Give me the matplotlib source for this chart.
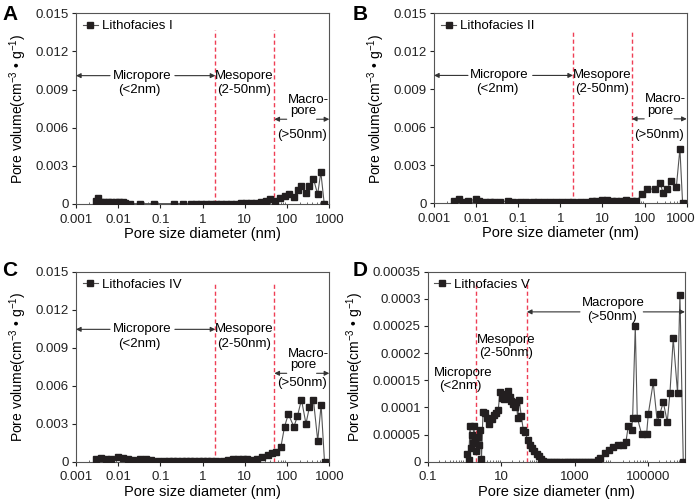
import numpy as np
import matplotlib
matplotlib.use('Agg')
import matplotlib.pyplot as plt
import matplotlib.transforms as mtransforms
from matplotlib.ticker import FixedLocator, FixedFormatter, LogLocator, NullFormatter

plt.rcParams['font.family'] = ['Liberation Sans', 'DejaVu Sans']
plt.rcParams['mathtext.fontset'] = 'custom'
plt.rcParams['mathtext.rm'] = 'Liberation Sans'

# ---- data ----
a_x = [0.003, 0.0033, 0.0039, 0.0047, 0.0056, 0.0067, 0.0089, 0.0106, 0.0127, 0.0147,
       0.019, 0.032, 0.072, 0.21, 0.35, 0.53, 0.69, 0.91, 1.2, 1.6,
       2.1, 2.7, 3.6, 4.7, 6.2, 8.1, 10.7, 14, 18.3, 24,
       31.7, 39.7, 53, 69, 87, 113, 148, 178, 214, 280,
       338, 420, 530, 630, 760]
a_y = [0.00026, 0.0005, 0.00018, 0.00013, 0.00013, 0.00013, 0.00016, 0.00018, 0.00016, 0.0001,
       0.00003, 0.00003, 0.00003, 0.00003, 0.00003, 0.00003, 0.00003, 0.00003, 0.00003, 0.00003,
       0.00003, 0.00003, 0.00003, 0.00003, 0.00003, 0.00005, 0.00005, 0.00008, 0.0001, 0.00013,
       0.00024, 0.00037, 0.00026, 0.0005, 0.00063, 0.00076, 0.00052, 0.0011, 0.0014, 0.00084,
       0.0014, 0.002, 0.00076, 0.0025, 0]

b_x = [0.003, 0.004, 0.0048, 0.0063, 0.01, 0.012, 0.016, 0.021, 0.027, 0.036,
       0.057, 0.075, 0.11, 0.155, 0.22, 0.3, 0.42, 0.58, 0.8, 1.1,
       1.5, 2.0, 2.9, 4.1, 5.5, 7.2, 9.5, 12.5, 16.4, 21.5,
       28, 37, 49, 64, 85, 112, 176, 234, 276, 333,
       435, 568, 690, 800]
b_y = [0.00018, 0.00034, 0.00013, 0.00016, 0.00034, 0.00016, 0.00013, 0.00013, 0.00013, 0.00013,
       0.00018, 0.00008, 0.00008, 0.00008, 0.00008, 0.00008, 0.00008, 0.00008, 0.00008, 0.00008,
       0.00008, 0.00008, 0.0001, 0.00013, 0.00018, 0.00021, 0.00024, 0.00026, 0.00018, 0.00018,
       0.00021, 0.00024, 0.00021, 0.00016, 0.00071, 0.00113, 0.00113, 0.0016, 0.0008, 0.0011,
       0.0018, 0.0013, 0.0043, 0]

c_x = [0.003, 0.0039, 0.0051, 0.0067, 0.0097, 0.0127, 0.0167, 0.022, 0.032, 0.045,
       0.06, 0.086, 0.123, 0.16, 0.2, 0.25, 0.32, 0.4, 0.5, 0.63,
       0.8, 1.0, 1.3, 1.6, 2.06, 2.98, 3.9, 5.1, 6.7, 8.8,
       11.5, 15, 19.9, 26, 34.5, 44, 55, 71.5, 87, 107,
       145, 176, 219, 280, 338, 420, 532, 640, 770]
c_y = [0.00018, 0.0003, 0.00018, 0.00018, 0.0004, 0.00026, 0.00018, 0.00013, 0.00018, 0.00018,
       0.00013, 0.00008, 0.00005, 0.00005, 0.00005, 0.00005, 0.00005, 0.00005, 0.00005, 0.00005,
       0.00005, 0.00005, 0.00005, 0.00005, 0.00005, 0.00008, 0.00013, 0.00018, 0.0002, 0.00024,
       0.00024, 0.00013, 0.00024, 0.0004, 0.0005, 0.0007, 0.0008, 0.00118, 0.00276, 0.00376,
       0.00276, 0.0036, 0.0049, 0.003, 0.0043, 0.0049, 0.00166, 0.0045, 0]

d_x = [1.15, 1.3, 1.42, 1.5, 1.6, 1.7, 1.8, 1.95, 2.1, 2.3,
       2.5, 2.7, 2.9, 3.2, 3.7, 4.2, 4.8, 5.5, 6.3, 7.2,
       8.3, 9.2, 10.5, 12, 13.5, 15, 17, 19, 21.5, 24,
       26, 28, 31, 35, 40, 45, 52, 60, 70, 80,
       92, 105, 120, 140, 160, 190, 230, 280, 340, 410,
       500, 600, 730, 880, 1060, 1280, 1550, 1870, 2260, 2730,
       3300, 4370, 4860, 6650, 8730, 11200, 15350, 20100, 24800, 28700,
       35400, 37700, 44500, 50400, 66100, 90500, 100500, 137000, 176000, 208000,
       257000, 330000, 390000, 480000, 630000, 730000, 900000]
d_y = [0.000015, 0.000003, 0.000065, 0.000025, 0.00005, 0.000035, 0.000065, 0.00004, 0.00002, 0.000045,
       0.00003, 0.000058, 0.000005, 0.000092, 0.00009, 0.00008, 0.00007, 0.000078, 0.000086, 0.00009,
       0.000095, 0.000128, 0.000118, 0.000115, 0.000125, 0.00013, 0.00012, 0.000112, 0.000106, 0.0001,
       0.00011, 0.00008, 0.000113, 0.000085, 0.000058, 0.000055, 0.00004, 0.00003, 0.000025, 0.00002,
       0.000015, 0.00001, 0.000005, 0.000002, 0, 0, 0, 0, 0, 0,
       0, 0, 0, 0, 0, 0, 0, 0, 0, 0,
       0, 0.000003, 0.000006, 0.0000166, 0.0000215, 0.0000276, 0.0000307, 0.0000307, 0.0000369, 0.0000657,
       0.0000584, 0.0000811, 0.00025, 0.0000811, 0.000051, 0.000051, 0.0000878, 0.000146, 0.0000737, 0.0000878,
       0.00011, 0.0000737, 0.000126, 0.000227, 0.000126, 0.000308, 0]

abc_xticks = [0.001, 0.01, 0.1, 1, 10, 100, 1000]
abc_xlabels = ['0.001', '0.01', '0.1', '1', '10', '100', '1000']
abc_yticks = [0, 0.003, 0.006, 0.009, 0.012, 0.015]
abc_ylabels = ['0', '0.003', '0.006', '0.009', '0.012', '0.015']
d_xticks = [0.1, 10, 1000, 100000]
d_xlabels = ['0.1', '10', '1000', '100000']
d_yticks = [0, 0.00005, 0.0001, 0.00015, 0.0002, 0.00025, 0.0003, 0.00035]
d_ylabels = ['0', '0.00005', '0.0001', '0.00015', '0.0002', '0.00025', '0.0003', '0.00035']

DARK = '#231f20'
RED = '#ef3e55'
ARROW = dict(arrowstyle='-|>', color='#333333', lw=0.8, mutation_scale=7, shrinkA=0, shrinkB=0)
TXT = 9.5

fig = plt.figure(figsize=(6.99, 4.99), dpi=100)
ax_a = fig.add_axes([0.1087, 0.5912, 0.3624, 0.382])
ax_b = fig.add_axes([0.6209, 0.5925, 0.3615, 0.3807])
ax_c = fig.add_axes([0.1087, 0.0747, 0.3624, 0.3808])
ax_d = fig.add_axes([0.6119, 0.0747, 0.368, 0.3808])


def style(ax, xt, xl, yt, yl, xlim, ylim):
    ax.set_xscale('log')
    ax.set_xlim(*xlim)
    ax.set_ylim(*ylim)
    ax.xaxis.set_major_locator(FixedLocator(xt))
    ax.xaxis.set_major_formatter(FixedFormatter(xl))
    ax.xaxis.set_minor_locator(LogLocator(base=10, subs=np.arange(2, 10), numticks=20))
    ax.xaxis.set_minor_formatter(NullFormatter())
    ax.yaxis.set_major_locator(FixedLocator(yt))
    ax.yaxis.set_major_formatter(FixedFormatter(yl))
    ax.tick_params(axis='both', which='major', direction='out', length=3, width=0.8,
                   labelsize=9.5, colors='#222222', pad=2)
    ax.tick_params(axis='x', which='major', pad=4)
    ax.tick_params(axis='x', which='minor', direction='in', length=1.5, width=0.6, colors='#555555')
    ax.tick_params(top=False, right=False, which='both')
    for s in ax.spines.values():
        s.set_color('#555555')
        s.set_linewidth(0.8)
    ax.set_xlabel('Pore size diameter (nm)', fontsize=10.5, labelpad=1)
    ax.set_ylabel(r'Pore volume(cm$^{\mathregular{-3}}$ • g$^{\mathregular{-1}}$)', fontsize=10, labelpad=5)


def series(ax, x, y, name):
    ax.plot(x, y, color='#555555', lw=0.8, marker='s', ms=5, mfc=DARK, mec=DARK,
            label=name, zorder=3)
    ax.legend(loc='upper left', frameon=False, fontsize=TXT, handlelength=1.2,
              handletextpad=0.3, borderaxespad=0.2, borderpad=0.3)


def abc_notes(ax, ytop, y_mi, y_mi2, y_ma1, y_ma2, y_arr, y_ma3):
    ax.vlines([2, 50], 0, ytop, colors=RED, linestyles=(0, (3, 2)), lw=1, zorder=2)
    ax.annotate('', xy=(0.001, y_mi), xytext=(0.0064, y_mi), arrowprops=ARROW)
    ax.annotate('', xy=(2, y_mi), xytext=(0.22, y_mi), arrowprops=ARROW)
    ax.text(0.036, y_mi, 'Micropore', ha='center', va='center', fontsize=TXT)
    ax.text(0.031, y_mi2, '(<2nm)', ha='center', va='center', fontsize=TXT)
    ax.text(9.8, y_mi, 'Mesopore', ha='center', va='center', fontsize=TXT)
    ax.text(9.8, y_mi2, '(2-50nm)', ha='center', va='center', fontsize=TXT)
    ax.text(320, y_ma1, 'Macro-', ha='center', va='center', fontsize=TXT)
    ax.text(242, y_ma2, 'pore', ha='center', va='center', fontsize=TXT)
    ax.annotate('', xy=(50, y_arr), xytext=(98, y_arr), arrowprops=ARROW)
    ax.annotate('', xy=(1000, y_arr), xytext=(500, y_arr), arrowprops=ARROW)
    ax.text(222, y_ma3, '(>50nm)', ha='center', va='center', fontsize=TXT)


for ax, x, y, name in [(ax_a, a_x, a_y, 'Lithofacies I'),
                       (ax_b, b_x, b_y, 'Lithofacies II'),
                       (ax_c, c_x, c_y, 'Lithofacies IV')]:
    style(ax, abc_xticks, abc_xlabels, abc_yticks, abc_ylabels, (0.001, 1000), (0, 0.015))
    series(ax, x, y, name)

abc_notes(ax_a, 0.0137, 0.0101, 0.009, 0.0082, 0.0073, 0.00667, 0.0054)
abc_notes(ax_b, 0.0137, 0.0101, 0.009, 0.0082, 0.0073, 0.00667, 0.0054)
abc_notes(ax_c, 0.0140, 0.01045, 0.0093, 0.0085, 0.0076, 0.00698, 0.0062)

# the last tick label of B sits a little left of its tick in the reference
shift = mtransforms.ScaledTranslation(-6 / 100, 0, fig.dpi_scale_trans)
last = ax_b.get_xticklabels()[-1]
last.set_transform(last.get_transform() + shift)

style(ax_d, d_xticks, d_xlabels, d_yticks, d_ylabels, (0.1, 1e6), (0, 0.00035))
series(ax_d, d_x, d_y, 'Lithofacies V')
ax_d.vlines([2, 50], 0, 0.000332, colors=RED, linestyles=(0, (3, 2)), lw=1, zorder=2)
ax_d.text(0.93, 0.000164, 'Micropore', ha='center', va='center', fontsize=TXT)
ax_d.text(0.76, 0.000139, '(<2nm)', ha='center', va='center', fontsize=TXT)
ax_d.text(13.5, 0.000225, 'Mesopore', ha='center', va='center', fontsize=TXT)
ax_d.text(13.5, 0.0002, '(2-50nm)', ha='center', va='center', fontsize=TXT)
ax_d.text(11200, 0.000293, 'Macropore', ha='center', va='center', fontsize=TXT)
ax_d.text(10500, 0.000267, '(>50nm)', ha='center', va='center', fontsize=TXT)
ax_d.annotate('', xy=(50, 0.000276), xytext=(1390, 0.000276), arrowprops=ARROW)
ax_d.annotate('', xy=(1e6, 0.000276), xytext=(73500, 0.000276), arrowprops=ARROW)

for lx, ly, s in [(0.003, 0.99, 'A'), (0.504, 0.99, 'B'), (0.003, 0.476, 'C'), (0.504, 0.476, 'D')]:
    fig.text(lx, ly, s, fontsize=15, fontweight='bold', va='top', ha='left')

fig.savefig('out.png', dpi=100)
